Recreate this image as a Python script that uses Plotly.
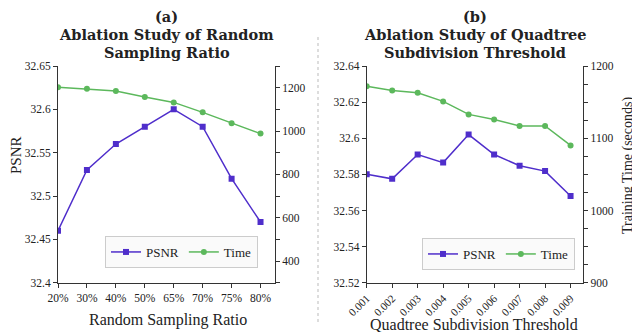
import plotly.graph_objects as go

# (a) random sampling ratio
ratio_labels = ["20%", "30%", "40%", "50%", "65%", "70%", "75%", "80%"]
ratio_psnr = [32.46, 32.53, 32.56, 32.58, 32.60, 32.58, 32.52, 32.47]
ratio_time = [1202, 1195, 1185, 1157, 1132, 1086, 1036, 988]

# (b) quadtree subdivision threshold
thr_labels = ["0.001", "0.002", "0.003", "0.004", "0.005", "0.006", "0.007", "0.008", "0.009"]
thr_psnr = [32.580, 32.5775, 32.591, 32.5865, 32.602, 32.591, 32.5848, 32.5818, 32.568]
thr_time = [1172, 1166, 1163, 1151, 1133, 1126, 1117, 1117, 1090]

purple = "#4f2ecb"
green = "#5cb85c"
font = "Liberation Serif"
title_font = "DejaVu Serif"

# the page body has an 8px margin, so the figure is drawn 8px in and down
OFF = 8
W, H = 640 - OFF, 332 - OFF


def px(x):
    return (x - OFF) / W


def py(y):
    return (H - (y - OFF)) / H


fig = go.Figure()
fig.add_trace(go.Scatter(x=ratio_labels, y=ratio_psnr, name="PSNR", mode="lines+markers",
                         line=dict(color=purple, width=1.5), marker=dict(symbol="square", size=6),
                         xaxis="x", yaxis="y", legend="legend"))
fig.add_trace(go.Scatter(x=ratio_labels, y=ratio_time, name="Time", mode="lines+markers",
                         line=dict(color=green, width=1.5), marker=dict(symbol="circle", size=6),
                         xaxis="x", yaxis="y2", legend="legend"))
fig.add_trace(go.Scatter(x=thr_labels, y=thr_psnr, name="PSNR", mode="lines+markers",
                         line=dict(color=purple, width=1.5), marker=dict(symbol="square", size=6),
                         xaxis="x2", yaxis="y3", legend="legend2"))
fig.add_trace(go.Scatter(x=thr_labels, y=thr_time, name="Time", mode="lines+markers",
                         line=dict(color=green, width=1.5), marker=dict(symbol="circle", size=6),
                         xaxis="x2", yaxis="y4", legend="legend2"))

ax = dict(showline=True, linecolor="#333", linewidth=1, ticks="outside", ticklen=4,
          tickcolor="#333", showgrid=False, zeroline=False, automargin=False,
          tickfont=dict(family=font, size=11.5, color="#222"))

dom1 = [px(58), px(275)]
dom2 = [px(366.7), px(583.3)]
ydom = [py(282.7), py(66)]

legend_style = dict(orientation="h", xanchor="right", yanchor="bottom",
                    bgcolor="#fafafa", bordercolor="#cccccc", borderwidth=1,
                    font=dict(family=font, size=13, color="#222"), itemwidth=30)

fig.update_layout(
    width=W, height=H, margin=dict(l=0, r=0, t=0, b=0, autoexpand=False),
    paper_bgcolor="white", plot_bgcolor="white",
    font=dict(family=font, color="#222"),
    xaxis=dict(ax, domain=dom1, anchor="y", type="category", range=[0, 7.5]),
    yaxis=dict(ax, domain=ydom, anchor="x", range=[32.4, 32.65], dtick=0.05),
    yaxis2=dict(ax, domain=ydom, anchor="x", overlaying="y", side="right", range=[300, 1300], dtick=200,
                minor=dict(ticks="outside", dtick=100, ticklen=4, tickcolor="#333")),
    xaxis2=dict(ax, domain=dom2, anchor="y3", type="category", range=[0, 8.5], tickangle=-45,
                tickfont=dict(family=font, size=11, color="#222")),
    yaxis3=dict(ax, domain=ydom, anchor="x2", range=[32.52, 32.64], dtick=0.02),
    yaxis4=dict(ax, domain=ydom, anchor="x2", overlaying="y3", side="right", range=[900, 1200], dtick=100,
                minor=dict(ticks="outside", dtick=25, ticklen=4, tickcolor="#333")),
    legend=dict(legend_style, x=px(258), y=py(268)),
    legend2=dict(legend_style, x=px(575), y=py(270)),
)


def label(text, x, y, size, angle=0, family=font):
    fig.add_annotation(text=text, x=px(x), y=py(y), xref="paper", yref="paper",
                       xanchor="center", yanchor="middle", textangle=angle, showarrow=False,
                       font=dict(family=family, size=size, color="#222"))


titles = [(["(a)", "Ablation Study of Random", "Sampling Ratio"], (58 + 275) / 2),
          (["(b)", "Ablation Study of Quadtree", "Subdivision Threshold"], (366.7 + 583.3) / 2)]
for lines, xc in titles:
    for line, yc in zip(lines, [16, 34.5, 53]):
        label("<b>" + line + "</b>", xc, yc, 14.5, family=title_font)

label("PSNR", 16, 155, 15, -90)
label("Training Time (seconds)", 628, 165, 14, -90)
label("Random Sampling Ratio", 168, 320, 16)
label("Quadtree Subdivision Threshold", 474, 324, 16)

# dotted separator between the two panels
fig.add_shape(type="line", xref="paper", yref="paper", x0=px(318), x1=px(318),
              y0=py(322), y1=py(35), line=dict(color="#bbbbbb", width=1, dash="dot"))

fig.write_html("out.html")
